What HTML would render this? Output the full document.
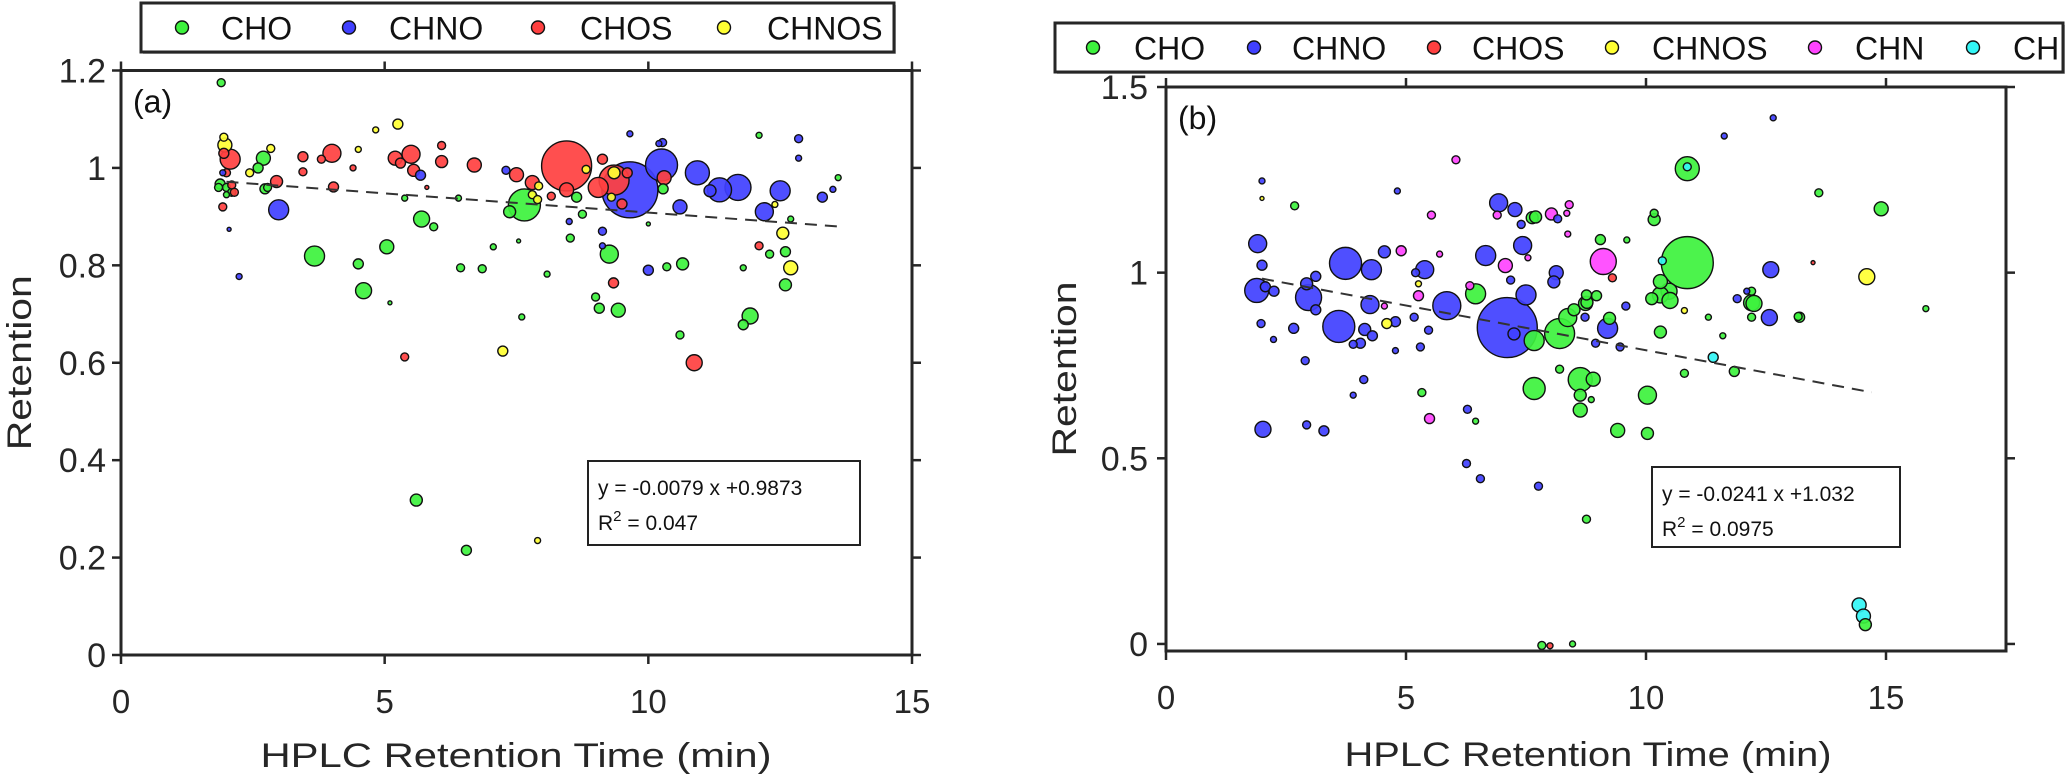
<!DOCTYPE html>
<html><head><meta charset="utf-8"><style>
html,body{margin:0;padding:0;background:#fff;}
svg{display:block;font-family:"Liberation Sans",Arial,sans-serif;}
</style></head><body>
<svg id="fig" width="2067" height="779" viewBox="0 0 2067 779" xmlns="http://www.w3.org/2000/svg">
<rect width="2067" height="779" fill="#fff"/>
<g id="pa"></g>
<g id="pb"></g>
</svg>
<script>
// ---- Panel A data ----
const aXTicks=[0,5,10,15];
const aYTicks=[0,0.2,0.4,0.6,0.8,1,1.2];
const aYTickLabels=["0","0.2","0.4","0.6","0.8","1","1.2"];
const aChoX=[1.9,1.88,2.0,2.1,1.85,2.0,2.7,2.6,2.78,2.73,3.67,4.5,4.6,5.04,5.1,5.6,5.7,5.93,5.38,6.4,6.44,6.85,6.55,7.06,7.54,7.6,8.08,7.65,7.37,8.52,8.64,8.75,9.0,9.07,9.43,9.26,10.0,10.28,10.35,10.65,10.6,11.8,11.93,11.8,12.1,12.3,12.6,12.6,12.7,13.6];
const aChoY=[1.175,0.967,0.96,0.95,0.96,0.945,1.02,1.0,0.96,0.957,0.819,0.803,0.748,0.838,0.723,0.318,0.895,0.879,0.938,0.938,0.795,0.793,0.215,0.838,0.85,0.694,0.782,0.924,0.91,0.856,0.94,0.905,0.735,0.712,0.708,0.823,0.885,0.957,0.797,0.803,0.657,0.678,0.696,0.795,1.067,0.823,0.828,0.76,0.895,0.98];
const aChoS=[4,5,4,4,4,3,7,5,4,5,10,5,8,7,2,6,8,4,3,3,4,4,5,3,2,3,3,16,6,4,5,4,4,5,7,9,2,5,4,6,4,5,8,3,3,4,5,6,3,3];
const aChnoX=[2.99,9.65,10.25,10.93,11.35,11.7,12.2,9.65,10.27,9.13,9.13,10.6,12.5,11.17,13.3,13.5,12.85,12.85,7.3,5.68,2.05,1.93,8.5,10.0,2.24,10.2];
const aChnoY=[0.914,0.955,1.006,0.99,0.955,0.96,0.91,1.07,1.052,0.87,0.84,0.92,0.953,0.953,0.94,0.956,1.06,1.02,0.995,0.985,0.874,0.99,0.89,0.79,0.777,1.05];
const aChnoS=[10,28,16,12,12,13,9,3,4,4,3,7,10,6,5,3,4,3,4,5,2,3,3,5,3,3];
const aChosX=[2.07,1.93,2.0,2.1,2.15,1.95,2.95,3.45,3.45,3.8,4.0,4.03,4.4,5.2,5.5,5.3,5.55,5.8,5.38,6.08,6.08,6.7,7.5,7.8,8.45,8.45,8.16,9.13,9.05,9.35,9.6,9.5,10.3,9.34,10.87,12.1];
const aChosY=[1.018,0.92,0.99,0.965,0.95,1.03,0.972,1.023,0.992,1.018,1.03,0.961,1.0,1.02,1.028,1.01,0.995,0.96,0.612,1.046,1.013,1.006,0.986,0.97,1.004,0.955,0.942,1.018,0.96,0.975,0.99,0.926,0.98,0.764,0.6,0.84];
const aChosS=[10,4,4,4,4,5,6,5,4,4,9,5,3,7,9,5,6,2,4,4,6,7,7,7,25,7,4,5,10,15,5,5,7,5,8,4];
const aChnosX=[1.97,1.95,2.84,2.44,4.5,4.83,5.25,7.24,7.8,7.92,7.9,8.82,9.35,9.3,12.4,12.55,12.7,7.9];
const aChnosY=[1.047,1.063,1.04,0.99,1.038,1.078,1.09,0.624,0.945,0.963,0.935,0.997,0.99,0.94,0.925,0.866,0.795,0.235];
const aChnosS=[7,4,4,4,3,3,5,5,4,4,4,4,6,4,3,6,7,3];
const aFit=[-0.0079,0.9873], aFitRange=[2.0,13.6];
// ---- Panel B data ----
const bXTicks=[0,5,10,15];
const bYTicks=[0,0.5,1,1.5];
const bYTickLabels=["0","0.5","1","1.5"];
const bChoX=[10.86,10.86,13.6,14.9,15.83,10.17,10.17,7.63,2.68,13.17,12.2,12.2,10.3,10.48,10.3,8.97,8.77,8.5,8.2,8.37,7.67,6.45,8.74,8.76,9.24,10.12,10.3,10.5,12.25,12.2,13.2,11.3,11.6,11.84,10.8,8.63,8.9,7.67,8.63,10.03,8.63,8.2,5.33,9.41,10.03,6.45,8.86,9.05,9.6,7.7,8.76,7.83,8.47,14.57];
const bChoY=[1.28,1.027,1.215,1.172,0.903,1.143,1.16,1.148,1.18,0.882,0.919,0.95,0.976,0.95,0.84,0.938,0.92,0.9,0.836,0.879,0.817,0.943,0.917,0.94,0.877,0.93,0.94,0.925,0.917,0.88,0.88,0.88,0.83,0.734,0.729,0.712,0.713,0.688,0.67,0.67,0.63,0.74,0.677,0.575,0.567,0.6,0.658,1.089,1.088,1.15,0.336,-0.004,0.0,0.052];
const bChoS=[12,26,4,7,3,6,4,6,4,4,8,4,7,8,6,5,6,6,15,9,10,10,7,5,6,6,8,8,8,4,5,3,3,5,4,12,7,11,6,9,7,4,4,7,6,3,3,5,3,6,4,4,3,6];
const bChnoX=[1.91,1.89,2.0,2.07,2.25,2.97,2.93,3.12,3.12,3.74,3.6,4.28,4.25,4.55,4.14,4.3,4.05,3.9,2.66,1.98,2.24,2.9,4.12,3.9,2.02,2.93,3.29,5.39,5.2,5.85,4.78,5.17,5.47,5.3,4.78,6.66,6.93,7.27,7.43,7.18,7.5,7.11,7.25,8.13,8.08,9.2,8.73,8.95,9.46,9.58,12.6,12.57,11.9,12.1,6.28,7.4,8.16,4.82,12.65,11.63,2.0,6.26,6.55,7.76];
const bChnoY=[1.078,0.952,1.02,0.962,0.95,0.933,0.97,0.99,0.9,1.025,0.855,1.008,0.914,1.056,0.847,0.83,0.81,0.807,0.85,0.863,0.82,0.763,0.712,0.67,0.578,0.59,0.574,1.008,1.0,0.911,0.868,0.88,0.845,0.8,0.79,1.046,1.188,1.17,1.073,0.98,0.94,0.852,0.835,1.0,0.975,0.85,0.88,0.81,0.8,0.91,1.008,0.879,0.93,0.95,0.632,1.13,1.145,1.22,1.417,1.368,1.247,0.486,0.445,0.425];
const bChnoS=[9,12,5,5,5,13,6,5,5,16,16,10,9,6,6,5,5,4,5,4,3,4,4,3,8,4,5,9,4,14,5,4,4,4,3,10,9,7,9,4,10,30,6,7,6,10,4,4,4,4,8,8,4,3,4,4,4,3,3,3,3,4,4,4];
const bChosX=[9.3,13.48,8.0];
const bChosY=[0.986,1.027,-0.005];
const bChosS=[4,2,3];
const bChnosX=[14.6,4.6,5.26,10.8,2.0];
const bChnosY=[0.989,0.863,0.97,0.898,1.2];
const bChnosS=[8,5,3,3,2];
const bChnX=[9.11,7.07,4.9,5.26,5.49,5.53,6.9,8.03,8.4,8.35,8.37,7.54,5.7,6.33,4.55,6.04];
const bChnY=[1.03,1.019,1.059,0.938,0.607,1.155,1.155,1.158,1.183,1.16,1.104,1.04,1.05,0.965,0.91,1.304];
const bChnS=[13,7,5,5,5,4,4,6,4,3,3,3,3,4,3,4];
const bChX=[10.34,11.4,14.44,14.53,10.86];
const bChY=[1.032,0.772,0.105,0.075,1.285];
const bChS=[4,5,7,7,4];
const bFit=[-0.0241,1.032], bFitRange=[2.0,14.7];

const NS="http://www.w3.org/2000/svg";
const COL={CHO:"#3df23d",CHNO:"#4040ff",CHOS:"#ff4040",CHNOS:"#ffff33",CHN:"#ff44ff",CH:"#33f5f5"};
function mk(tag,attrs,parent){const e=document.createElementNS(NS,tag);for(const k in attrs)e.setAttribute(k,attrs[k]);parent.appendChild(e);return e;}

function drawPanel(g,P){
  const sx=v=>P.x0+(v-P.xmin)*(P.x1-P.x0)/(P.xmax-P.xmin);
  const sy=v=>P.y0-(v-P.ymin)*(P.y0-P.y1)/(P.ymax-P.ymin);
  // points
  const pts=[];
  P.series.forEach(s=>{s.x.forEach((v,i)=>pts.push({x:v,y:s.y[i],r:s.s[i],c:s.c,n:s.n}));});
  pts.sort((a,b)=>b.r-a.r);
  const pg=mk("g",{},g);
  
  
  pts.forEach(p=>{
    const c=mk("circle",{cx:sx(p.x),cy:sy(p.y),r:p.r,fill:COL[p.c],"fill-opacity":0.92,stroke:"#111",'stroke-width':1.4},pg);
    
    
  });
  // fit line
  const fl=mk("line",{x1:sx(P.fr[0]),y1:sy(P.fit[0]*P.fr[0]+P.fit[1]),x2:sx(P.fr[1]),y2:sy(P.fit[0]*P.fr[1]+P.fit[1]),stroke:"#333","stroke-width":2,"stroke-dasharray":"12 8"},g);
  
  
  // axes box
  const bx=mk("rect",{x:P.x0,y:P.y1,width:P.x1-P.x0,height:P.y0-P.y1,fill:"none",stroke:"#262626","stroke-width":3},g);
  
  
  P.xt.forEach(t=>{
    const X=sx(t);
    mk("line",{x1:X,y1:P.y0,x2:X,y2:P.y0+9,stroke:"#262626","stroke-width":2.5},g);
    mk("line",{x1:X,y1:P.y1,x2:X,y2:P.y1-9,stroke:"#262626","stroke-width":2.5},g);
    const tx=mk("text",{x:X,y:P.y0+58,"text-anchor":"middle","font-size":33,fill:"#262626"},g);
    tx.textContent=String(t);
    
    
  });
  P.yt.forEach((t,i)=>{
    const Y=sy(t);
    mk("line",{x1:P.x0,y1:Y,x2:P.x0-9,y2:Y,stroke:"#262626","stroke-width":2.5},g);
    mk("line",{x1:P.x1,y1:Y,x2:P.x1+9,y2:Y,stroke:"#262626","stroke-width":2.5},g);
    const ty=mk("text",{x:P.ylx,y:Y+12,"text-anchor":"end","font-size":34,fill:"#262626"},g);
    ty.textContent=P.ytl[i];
    
    
  });
  const xl=mk("text",{x:P.xlc,y:P.xlb,"text-anchor":"middle","font-size":34,fill:"#262626",textLength:P.xlw,lengthAdjust:"spacingAndGlyphs"},g);
  xl.textContent="HPLC Retention Time (min)";
  
  
  const yl=mk("text",{x:0,y:0,"text-anchor":"middle","font-size":34,fill:"#262626",textLength:175,lengthAdjust:"spacingAndGlyphs",transform:`translate(${P.ylb},${(P.y0+P.y1)/2}) rotate(-90)`},g);
  yl.textContent="Retention";
  
  
  const pl=mk("text",{x:P.x0+12,y:P.y1+42,"font-size":32,fill:"#111"},g);
  pl.textContent=P.lab;
  
  
  // equation box
  const eb=mk("rect",{x:P.eq[0],y:P.eq[1],width:P.eq[2],height:P.eq[3],fill:"#fff",stroke:"#222","stroke-width":2},g);
  
  
  const e1=mk("text",{x:P.eq[0]+10,y:P.eq[1]+34,"font-size":21,fill:"#111"},g);
  e1.textContent=P.eqt;
  
  
  const e2=mk("text",{x:P.eq[0]+10,y:P.eq[1]+69,"font-size":21,fill:"#111"},g);
  e2.innerHTML='R<tspan dy="-9" font-size="15">2</tspan><tspan dy="9"> = '+P.r2+'</tspan>';
  
  
  // legend
  const lg=mk("g",{},g);
  
  
  mk("rect",{x:P.lb[0]+2,y:P.lb[1]+2,width:P.lb[2],height:P.lb[3],fill:"#bbb"},lg);
  mk("rect",{x:P.lb[0],y:P.lb[1],width:P.lb[2],height:P.lb[3],fill:"#fff",stroke:"#262626","stroke-width":3},lg);
  P.leg.forEach(L=>{
    const m=mk("circle",{cx:L[1],cy:P.lb[1]+P.lb[3]/2,r:6.5,fill:COL[L[0]],stroke:"#111","stroke-width":1.4},lg);
    
    
    const t=mk("text",{x:L[2],y:P.lb[1]+P.lb[3]/2+12,"font-size":32,fill:"#111"},lg);
    t.textContent=L[0];
    
    
  });
}

drawPanel(document.getElementById('pa'),{
  x0:121,x1:912,y0:655,y1:70.5,xmin:0,xmax:15,ymin:0,ymax:1.2,
  xt:aXTicks,yt:aYTicks,ytl:aYTickLabels,ylx:106,ylb:31,xlc:516,xlb:767,xlw:511,lab:"(a)",
  series:[{n:'CHO',c:'CHO',x:aChoX,y:aChoY,s:aChoS},{n:'CHNO',c:'CHNO',x:aChnoX,y:aChnoY,s:aChnoS},{n:'CHOS',c:'CHOS',x:aChosX,y:aChosY,s:aChosS},{n:'CHNOS',c:'CHNOS',x:aChnosX,y:aChnosY,s:aChnosS}],
  fit:aFit,fr:aFitRange,eq:[588,461,272,84],eqt:"y = -0.0079 x +0.9873",r2:"0.047",
  lb:[141,3,753,49],leg:[['CHO',182,221],['CHNO',349,389],['CHOS',538,580],['CHNOS',724,767]]
});
drawPanel(document.getElementById('pb'),{
  x0:1166,x1:2006,y0:651,y1:87,xmin:0,xmax:17.5,ymin:-0.019,ymax:1.5,
  xt:bXTicks,yt:bYTicks,ytl:bYTickLabels,ylx:1148,ylb:1076,xlc:1588,xlb:766,xlw:487,lab:"(b)",
  series:[{n:'CHO',c:'CHO',x:bChoX,y:bChoY,s:bChoS},{n:'CHNO',c:'CHNO',x:bChnoX,y:bChnoY,s:bChnoS},{n:'CHOS',c:'CHOS',x:bChosX,y:bChosY,s:bChosS},{n:'CHNOS',c:'CHNOS',x:bChnosX,y:bChnosY,s:bChnosS},{n:'CHN',c:'CHN',x:bChnX,y:bChnY,s:bChnS},{n:'CH',c:'CH',x:bChX,y:bChY,s:bChS}],
  fit:bFit,fr:bFitRange,eq:[1652,467,248,80],eqt:"y = -0.0241 x +1.032",r2:"0.0975",
  lb:[1055,23,1008,49],leg:[['CHO',1093,1134],['CHNO',1254,1292],['CHOS',1434,1472],['CHNOS',1612,1652],['CHN',1815,1855],['CH',1973,2013]]
});
</script>
</body></html>
